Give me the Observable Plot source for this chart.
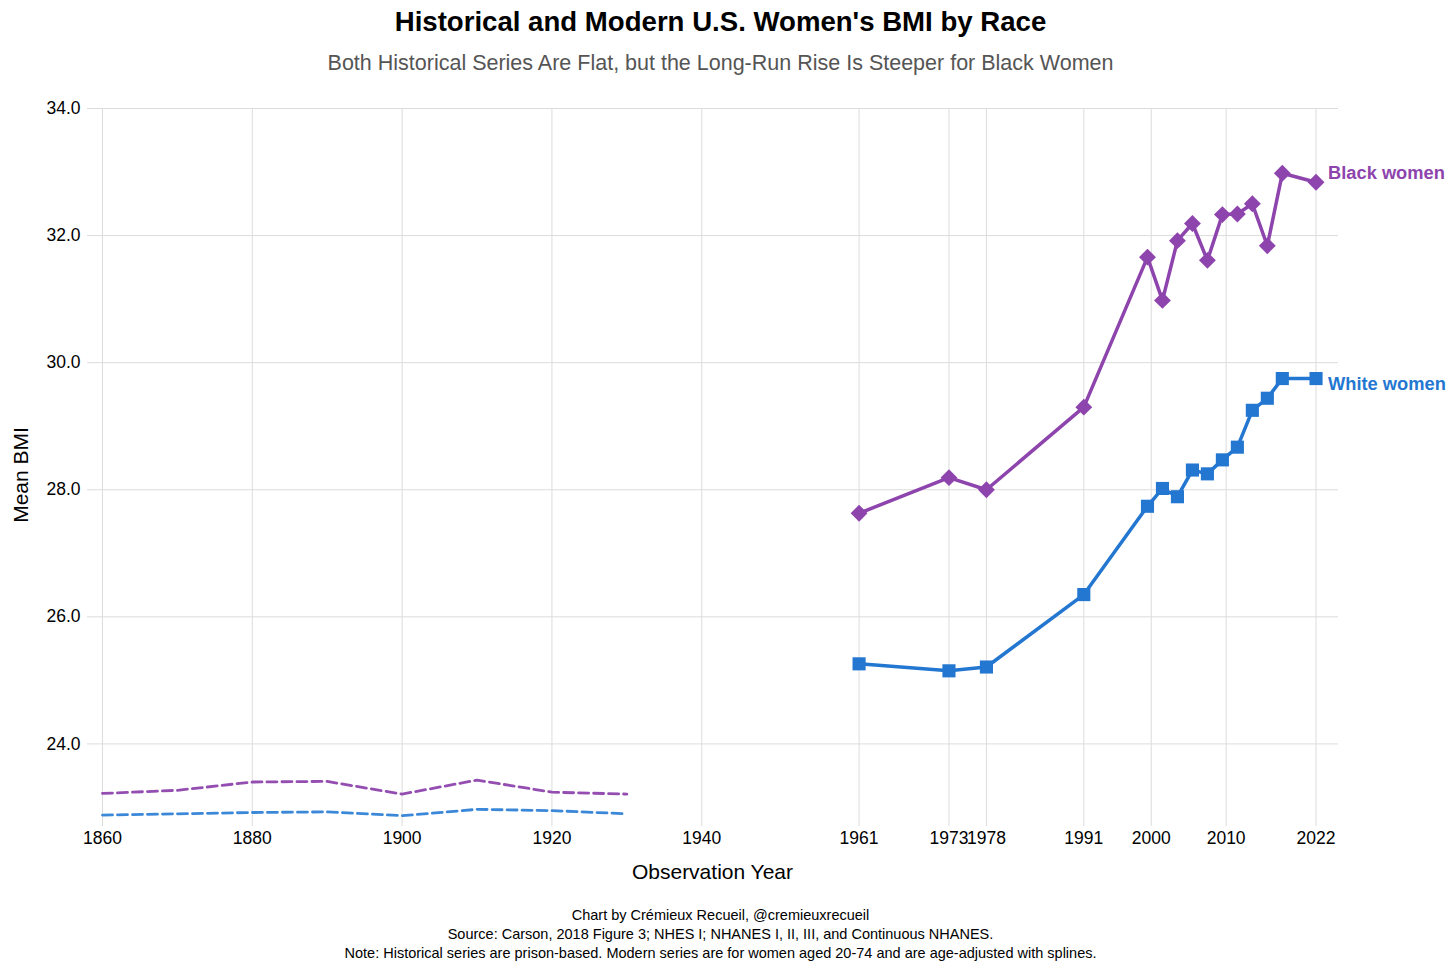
<!DOCTYPE html>
<html>
<head>
<meta charset="utf-8">
<script src="https://cdn.jsdelivr.net/npm/d3@7"></script>
<script src="https://cdn.jsdelivr.net/npm/@observablehq/plot@0.6"></script>
<style>
  body { margin: 0; background: #fff; font-family: "Liberation Sans", Arial, sans-serif; }
  #wrap { position: relative; width: 1456px; height: 973px; overflow: hidden; }
  .t { position: absolute; left: 0; width: 1441px; text-align: center; white-space: nowrap; }
  #chart { position: absolute; left: 0; top: 88px; }
</style>
</head>
<body>
<div id="wrap">
  <div class="t" style="top:5px;font-size:27.6px;line-height:33px;font-weight:bold;color:#000;">Historical and Modern U.S. Women's BMI by Race</div>
  <div class="t" style="top:50px;font-size:21.5px;line-height:26px;color:#555;">Both Historical Series Are Flat, but the Long-Run Rise Is Steeper for Black Women</div>
  <div id="chart"></div>
  <div class="t" style="left:87px;width:1251px;top:859px;font-size:21px;line-height:25px;color:#000;">Observation Year</div>
  <div style="position:absolute;left:20px;top:475px;transform:translate(-50%,-50%) rotate(-90deg);font-size:21px;line-height:25px;white-space:nowrap;color:#000;">Mean BMI</div>
  <div class="t" style="top:906px;font-size:14.5px;line-height:19px;color:#000;">Chart by Crémieux Recueil, @cremieuxrecueil<br>Source: Carson, 2018 Figure 3; NHES I; NHANES I, II, III, and Continuous NHANES.<br>Note: Historical series are prison-based. Modern series are for women aged 20-74 and are age-adjusted with splines.</div>
</div>
<script>
// ---- data ----
const histYears = [1860, 1870, 1880, 1890, 1900, 1910, 1920, 1930];
const histBlack = [23.22, 23.27, 23.40, 23.41, 23.21, 23.43, 23.24, 23.21];
const histWhite = [22.88, 22.90, 22.92, 22.93, 22.87, 22.97, 22.95, 22.90];

const modernYears = [1961, 1973, 1978, 1991, 1999.5, 2001.5, 2003.5, 2005.5, 2007.5, 2009.5, 2011.5, 2013.5, 2015.5, 2017.5, 2022];
const modernBlack = [27.63, 28.19, 28.00, 29.30, 31.66, 30.98, 31.92, 32.19, 31.61, 32.33, 32.34, 32.50, 31.84, 32.98, 32.84];
const modernWhite = [25.26, 25.15, 25.21, 26.35, 27.74, 28.02, 27.89, 28.31, 28.25, 28.47, 28.67, 29.25, 29.44, 29.75, 29.75];

const xTicks = [1860, 1880, 1900, 1920, 1940, 1961, 1973, 1978, 1991, 2000, 2010, 2022];
const yTicks = [24, 26, 28, 30, 32, 34];

const seriesNames = ["Black women", "White women"];
const purple = "#8E44AD";
const blue = "#2477D1";
const bluePale = "#3C88D8";

// ---- tables ----
const hb = histYears.map((y, i) => ({year: y, bmi: histBlack[i]}));
const hw = histYears.map((y, i) => ({year: y, bmi: histWhite[i]}));
const mb = modernYears.map((y, i) => ({year: y, bmi: modernBlack[i]}));
const mw = modernYears.map((y, i) => ({year: y, bmi: modernWhite[i]}));
const lastB = [{year: modernYears[modernYears.length - 1], bmi: modernBlack[modernBlack.length - 1], name: seriesNames[0]}];
const lastW = [{year: modernYears[modernYears.length - 1], bmi: modernWhite[modernWhite.length - 1], name: seriesNames[1]}];

const plot = Plot.plot({
  width: 1456,
  height: 807,
  marginLeft: 87,
  marginRight: 118,
  marginTop: 20,
  marginBottom: 69,
  style: {fontFamily: '"Liberation Sans", Arial, sans-serif', fontSize: "17px", color: "#000", background: "#fff", overflow: "visible"},
  x: {domain: [1858, 2025]},
  y: {domain: [22.7, 34]},
  marks: [
    Plot.gridX(xTicks, {stroke: "#dcdcdc", strokeOpacity: 1, strokeWidth: 1}),
    Plot.gridY(yTicks, {stroke: "#dcdcdc", strokeOpacity: 1, strokeWidth: 1}),
    Plot.axisX(xTicks, {tickSize: 0, tickPadding: 5, fontSize: 17.5, tickFormat: d => String(d), label: null}),
    Plot.axisY(yTicks, {tickSize: 0, tickPadding: 7, fontSize: 17.5, tickFormat: d => d.toFixed(1), label: null}),
    Plot.line(hb, {x: "year", y: "bmi", stroke: purple, strokeWidth: 2.8, strokeDasharray: "10,5", strokeOpacity: 0.95}),
    Plot.line(hw, {x: "year", y: "bmi", stroke: bluePale, strokeWidth: 2.8, strokeDasharray: "10,5"}),
    Plot.line(mb, {x: "year", y: "bmi", stroke: purple, strokeWidth: 3.5}),
    Plot.line(mw, {x: "year", y: "bmi", stroke: blue, strokeWidth: 3.5}),
    Plot.dot(mb, {x: "year", y: "bmi", symbol: "diamond2", r: 7.6, fill: purple, stroke: "none"}),
    Plot.dot(mw, {x: "year", y: "bmi", symbol: "square", r: 7.4, fill: blue, stroke: "none"}),
    Plot.text(lastB, {x: "year", y: "bmi", text: "name", dx: 12, dy: -9, textAnchor: "start", fontWeight: "bold", fontSize: 18.3, fill: purple}),
    Plot.text(lastW, {x: "year", y: "bmi", text: "name", dx: 12, dy: 6, textAnchor: "start", fontWeight: "bold", fontSize: 18.3, fill: blue})
  ]
});
document.getElementById("chart").appendChild(plot);
</script>
</body>
</html>
